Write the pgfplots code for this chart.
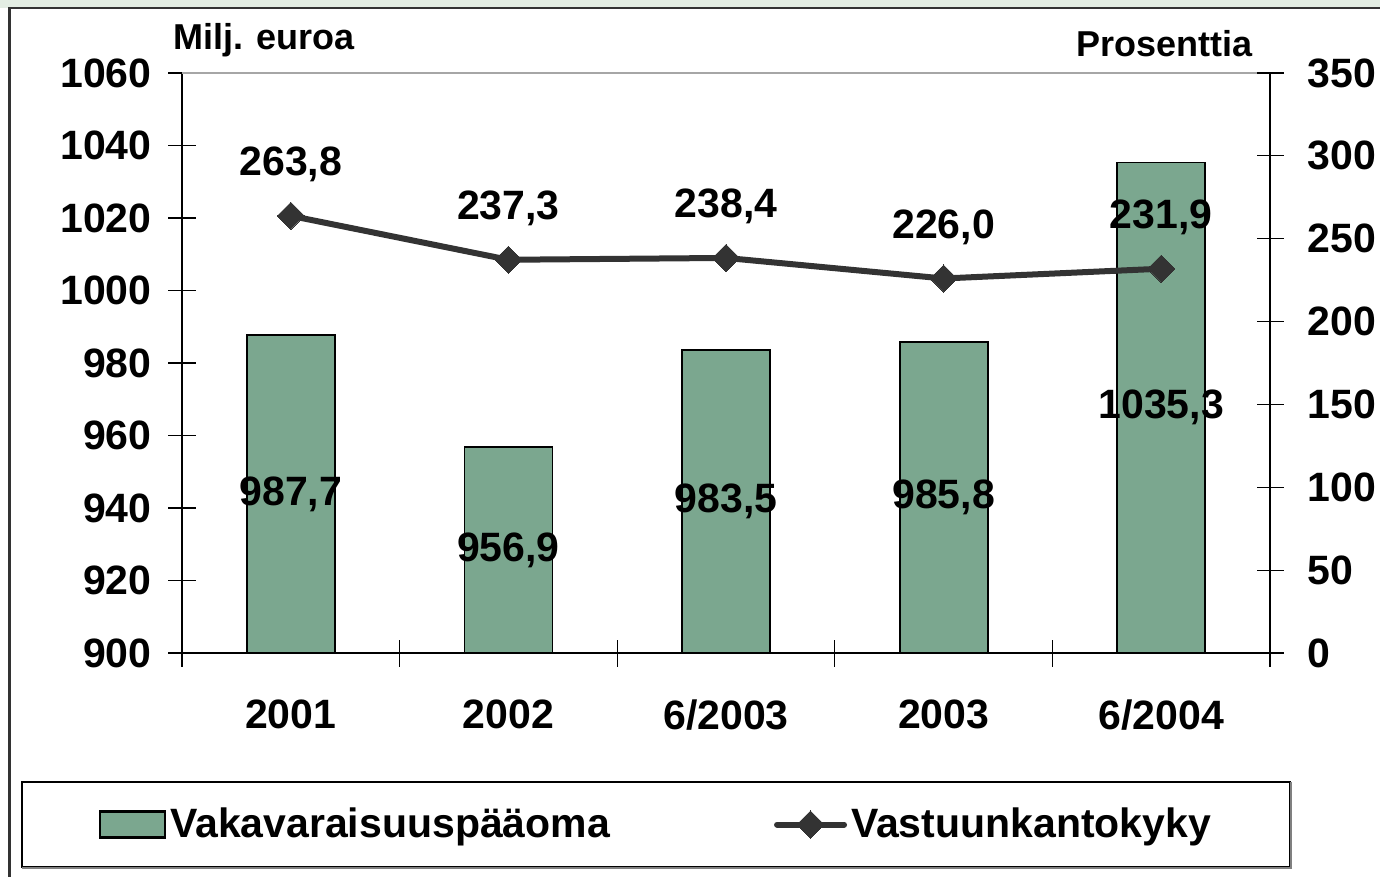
\documentclass[border=0pt]{standalone}
\usepackage{fontspec}
\setmainfont{Liberation Sans}
\usepackage{pgfplots}
\pgfplotsset{compat=1.18}
\definecolor{barfill}{HTML}{7BA78F}
\definecolor{linegray}{HTML}{333333}
\definecolor{topstrip}{HTML}{E3EDE3}
\newcommand{\bigbold}{\fontsize{20.5}{24}\selectfont\bfseries}

\pgfplotsset{
  common/.style={
    scale only axis, width=544pt, height=290pt,
    at={(91pt,-326.5pt)}, anchor=south west,
    xmin=-0.5, xmax=4.5,
    tick align=center, major tick length=13.5pt,
    tick style={black, line width=0.6pt},
    axis line style={black, line width=0.8pt},
    tick label style={font=\bigbold},
    /pgf/number format/assume math mode=true,
    /pgf/number format/1000 sep={},
  },
  valfmt/.style={
    nodes near coords={\pgfmathprintnumber[fixed,fixed zerofill,precision=1,use comma,1000 sep={}]{\pgfplotspointmeta}},
  },
  barlegend/.style={
    legend image code/.code={\draw[##1] (0pt,-6.5pt) rectangle (32.5pt,6.5pt);},
  },
  linelegend/.style={
    legend image code/.code={
      \draw[##1, mark=none, line cap=round] (0pt,0pt) -- (33.5pt,0pt);
      \draw[##1] plot coordinates {(16.75pt,0pt)};},
  },
}

\begin{document}
\begin{tikzpicture}
\useasboundingbox (0pt,0pt) rectangle (690pt,-438.5pt);
\fill[white] (0pt,0pt) rectangle (690pt,-438.5pt);
\fill[topstrip] (0pt,0pt) rectangle (690pt,-3.8pt);
\draw[linegray, line width=1.3pt] (4.6pt,-480pt) -- (4.6pt,-4pt) -- (700pt,-4pt);

% Vakavaraisuuspaaoma (vasen akseli)
\begin{axis}[common,
    ymin=900, ymax=1060, ytick={900,920,...,1060},
    axis x line*=bottom, axis y line*=left,
    xtick={-0.5,0.5,...,4.5},
    x tick label as interval=true,
    xticklabels={2001,2002,6/2003,2003,6/2004},
    xticklabel style={yshift=-13pt},
    yticklabel style={xshift=-5pt},
    clip=false,
  ]
  \addplot[ybar, bar width=44pt, fill=barfill, draw=black, line width=0.9pt,
    valfmt, visualization depends on={rawy \as \rawy},
    nodes near coords style={anchor=center, font=\bigbold, text=black,
      yshift={-(\rawy-900)*0.90625pt}}]
    coordinates {(0,987.7) (1,956.9) (2,983.5) (3,985.8) (4,1035.3)};
  \draw[gray!70, line width=0.8pt] (rel axis cs:0,1) -- (rel axis cs:1,1);
\end{axis}

% Vastuunkantokyky (oikea akseli)
\begin{axis}[common,
    ymin=0, ymax=350, ytick={0,50,...,350},
    axis y line*=right, axis x line=none,
    yticklabel style={xshift=8.5pt},
    clip=false,
    legend columns=2,
    legend style={draw=none, fill=none,
      at={(axis description cs:0.4366,-0.2957)}, anchor=center,
      font=\bigbold, nodes={inner sep=2pt},
      /tikz/every even column/.append style={column sep=80pt}},
  ]
  \addlegendimage{fill=barfill, draw=black, line width=1.1pt, barlegend}
  \addlegendentry{Vakavaraisuuspääoma}
  \addplot[linegray, line width=3pt,
    mark=square*, mark size=4.8pt,
    mark options={rotate=45, fill=linegray, draw=linegray, line width=0pt},
    valfmt, linelegend,
    nodes near coords style={anchor=base, yshift=20pt, font=\bigbold, text=black}]
    coordinates {(0,263.8) (1,237.3) (2,238.4) (3,226.0) (4,231.9)};
  \addlegendentry{Vastuunkantokyky}
\end{axis}

\draw[black, line width=0.6pt] (11pt,-391pt) rectangle (645pt,-433.5pt);
\draw[gray, line width=0.9pt] (645.6pt,-391pt) -- (645.6pt,-434.1pt) -- (11pt,-434.1pt);

\node[anchor=base west, font=\fontsize{18}{22}\selectfont\bfseries, inner sep=0pt]
  at (86.5pt,-25pt) {Milj. euroa};
\node[anchor=base east, font=\fontsize{18}{22}\selectfont\bfseries, inner sep=0pt]
  at (626.5pt,-28.5pt) {Prosenttia};
\end{tikzpicture}
\end{document}
